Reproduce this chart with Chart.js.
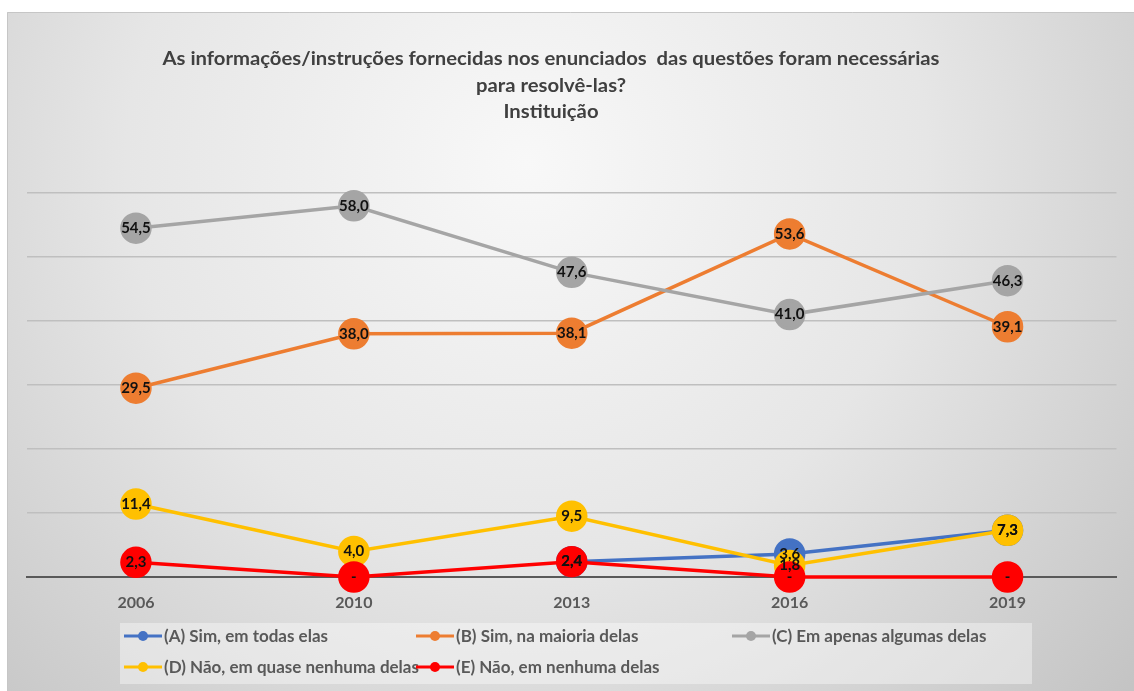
<!DOCTYPE html>
<html>
<head>
<meta charset="utf-8">
<script src="https://cdn.jsdelivr.net/npm/chart.js@4/dist/chart.umd.min.js"></script>
<style>
  html, body { margin: 0; padding: 0; background: #ffffff; }
  #wrap { position: absolute; left: 7px; top: 12px; width: 1127px; height: 679px; }
</style>
</head>
<body>
<div id="wrap"><canvas id="chart"></canvas></div>
<script>
// Data
const years = ['2006', '2010', '2013', '2016', '2019'];
const simTodas = [null, null, 2.4, 3.6, 7.3];
const simMaioria = [29.5, 38.0, 38.1, 53.6, 39.1];
const emAlgumas = [54.5, 58.0, 47.6, 41.0, 46.3];
const quaseNenhuma = [11.4, 4.0, 9.5, 1.8, 7.3];
const nenhuma = [2.3, 0, 2.4, 0, 0];

const titleLines = [
  'As informações/instruções fornecidas nos enunciados  das questões foram necessárias',
  'para resolvê-las?',
  'Instituição'
];

const COLORS = {
  blue: '#4472C4',
  orange: '#ED7D31',
  grey: '#A5A5A5',
  yellow: '#FFC000',
  red: '#FF0000'
};

const FONT = 'Lato, "Open Sans", sans-serif';

function fmt(v) {
  if (v === 0) return '-';
  return v.toFixed(1).replace('.', ',');
}

function series(label, data, color, order) {
  return {
    label: label,
    data: data,
    borderColor: color,
    backgroundColor: color,
    pointBackgroundColor: color,
    pointBorderColor: color,
    borderWidth: 3.5,
    pointRadius: 14,
    pointHoverRadius: 14,
    tension: 0,
    clip: false,
    order: order
  };
}

// background gradient + frame
const backgroundPlugin = {
  id: 'background',
  beforeDraw(chart) {
    const ctx = chart.ctx;
    const w = chart.width, h = chart.height;
    ctx.save();
    const g = ctx.createRadialGradient(520, 150, 0, 520, 150, 800);
    g.addColorStop(0, '#f8f8f8');
    g.addColorStop(0.5, '#e6e6e6');
    g.addColorStop(1, '#c4c4c4');
    ctx.fillStyle = g;
    ctx.fillRect(0, 0, w, h);
    ctx.strokeStyle = '#c6c6c6';
    ctx.lineWidth = 1;
    ctx.beginPath();
    ctx.moveTo(0.5, h);
    ctx.lineTo(0.5, 0.5);
    ctx.lineTo(w, 0.5);
    ctx.stroke();
    ctx.restore();
  }
};

// title, squeezed a bit like the original
const titlePlugin = {
  id: 'customTitle',
  afterDraw(chart) {
    const ctx = chart.ctx;
    ctx.save();
    ctx.font = 'bold 19px ' + FONT;
    ctx.fillStyle = '#404040';
    ctx.textAlign = 'center';
    ctx.textBaseline = 'middle';
    const sx = 777 / ctx.measureText(titleLines[0]).width;
    const ys = [47, 74, 100];
    titleLines.forEach((line, i) => {
      ctx.save();
      ctx.translate(544, ys[i]);
      ctx.scale(sx, 1);
      ctx.fillText(line, 0, 0);
      ctx.restore();
    });
    ctx.restore();
  }
};

// value labels on top of every marker
const labelsPlugin = {
  id: 'valueLabels',
  afterDatasetsDraw(chart) {
    const ctx = chart.ctx;
    ctx.save();
    ctx.font = 'bold 15px ' + FONT;
    ctx.fillStyle = '#111111';
    ctx.textAlign = 'center';
    ctx.textBaseline = 'middle';
    chart.data.datasets.forEach((ds, di) => {
      const meta = chart.getDatasetMeta(di);
      meta.data.forEach((pt, i) => {
        const v = ds.data[i];
        if (v === null || v === undefined) return;
        ctx.fillText(fmt(v), pt.x, pt.y);
      });
    });
    ctx.restore();
  }
};

// legend box at the bottom, laid out in two rows
const legendPlugin = {
  id: 'customLegend',
  afterDraw(chart) {
    const ctx = chart.ctx;
    const slots = [[117, 624], [409, 624], [725, 624], [117, 655], [409, 655]];
    ctx.save();
    ctx.fillStyle = 'rgba(255,255,255,0.38)';
    ctx.fillRect(113, 611, 912, 61);
    ctx.font = 'bold 17px ' + FONT;
    ctx.textBaseline = 'middle';
    ctx.textAlign = 'left';
    chart.data.datasets.forEach((ds, i) => {
      const x = slots[i][0], y = slots[i][1];
      ctx.strokeStyle = ds.borderColor;
      ctx.lineWidth = 3;
      ctx.beginPath();
      ctx.moveTo(x, y);
      ctx.lineTo(x + 38, y);
      ctx.stroke();
      ctx.fillStyle = ds.borderColor;
      ctx.beginPath();
      ctx.arc(x + 19, y, 5, 0, Math.PI * 2);
      ctx.fill();
      ctx.fillStyle = '#595959';
      ctx.fillText(ds.label, x + 40, y + 1);
    });
    ctx.restore();
  }
};

new Chart(document.getElementById('chart'), {
  type: 'line',
  data: {
    labels: years,
    datasets: [
      series('(A) Sim, em todas elas', simTodas, COLORS.blue, 5),
      series('(B) Sim, na maioria delas', simMaioria, COLORS.orange, 4),
      series('(C) Em apenas algumas delas', emAlgumas, COLORS.grey, 3),
      series('(D) Não, em quase nenhuma delas', quaseNenhuma, COLORS.yellow, 2),
      series('(E) Não, em nenhuma delas', nenhuma, COLORS.red, 1)
    ]
  },
  options: {
    responsive: true,
    maintainAspectRatio: false,
    animation: false,
    layout: {
      padding: { left: 20, right: 7, top: 181, bottom: 78 }
    },
    plugins: {
      legend: { display: false },
      title: { display: false },
      tooltip: { enabled: false }
    },
    scales: {
      x: {
        offset: true,
        grid: { display: false, drawTicks: false },
        border: { display: true, color: '#595959', width: 2 },
        ticks: {
          padding: 16,
          color: '#595959',
          font: { family: FONT, size: 16, weight: 'bold' }
        },
        afterFit(scale) { scale.height = 36; }
      },
      y: {
        min: 0,
        max: 60,
        ticks: { display: false, stepSize: 10 },
        border: { display: false },
        grid: {
          drawTicks: false,
          color: ctx => ctx.tick.value === 0 ? '#595959' : '#bfbfbf',
          lineWidth: ctx => ctx.tick.value === 0 ? 2 : 1.5
        },
        afterFit(scale) { scale.width = 0; }
      }
    }
  },
  plugins: [backgroundPlugin, titlePlugin, labelsPlugin, legendPlugin]
});
</script>
</body>
</html>
